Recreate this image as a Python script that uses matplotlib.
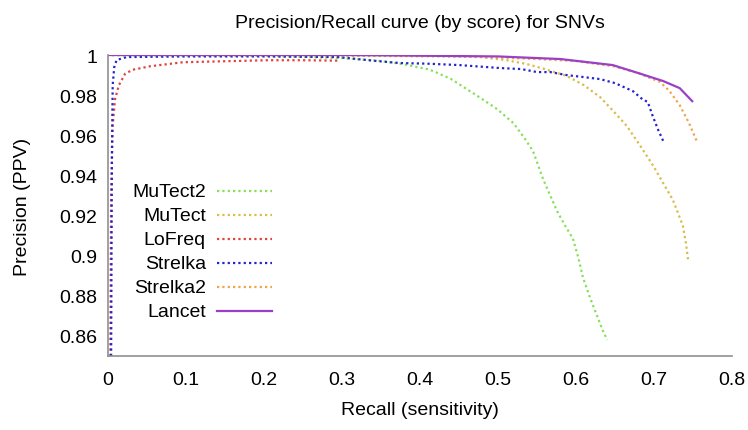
import matplotlib
matplotlib.use('Agg')
from matplotlib import pyplot as plt

plt.rcParams['font.family'] = ['Liberation Sans', 'DejaVu Sans']

# recall / precision values
mutect2_x = [0.005, 0.1, 0.2, 0.3, 0.35, 0.378, 0.409, 0.417, 0.44, 0.46, 0.48, 0.499, 0.52, 0.535,
             0.545, 0.558, 0.567, 0.576, 0.586, 0.596, 0.603, 0.609, 0.618, 0.627, 0.634, 0.640]
mutect2_y = [1.0, 0.9998, 0.9996, 0.9985, 0.997, 0.9955, 0.993, 0.992, 0.988, 0.983, 0.978, 0.973, 0.966, 0.958,
             0.952, 0.938, 0.930, 0.922, 0.915, 0.9085, 0.899, 0.889, 0.879, 0.870, 0.863, 0.858]

mutect_x = [0.005, 0.2, 0.35, 0.42, 0.477, 0.51, 0.537, 0.56, 0.588, 0.61, 0.631, 0.648, 0.665, 0.682,
            0.699, 0.712, 0.724, 0.731, 0.737, 0.741, 0.744]
mutect_y = [1.0, 0.9998, 0.9995, 0.9993, 0.999, 0.9975, 0.9955, 0.993, 0.9896, 0.985, 0.979, 0.972, 0.9647, 0.955,
            0.9448, 0.936, 0.928, 0.921, 0.915, 0.906, 0.897]

lofreq_x = [0.003, 0.004, 0.006, 0.009, 0.014, 0.022, 0.032, 0.054, 0.096, 0.16, 0.204, 0.25, 0.294]
lofreq_y = [0.85, 0.93, 0.965, 0.978, 0.985, 0.9907, 0.9927, 0.9944, 0.9964, 0.997, 0.9974, 0.9974, 0.9972]

strelka_x = [0.004, 0.005, 0.006, 0.008, 0.011, 0.024, 0.1, 0.2, 0.294, 0.345, 0.374, 0.409, 0.45, 0.503,
             0.53, 0.55, 0.567, 0.588, 0.61, 0.631, 0.65, 0.673, 0.685, 0.692, 0.698, 0.705, 0.712]
strelka_y = [0.85, 0.95, 0.985, 0.994, 0.9975, 0.999, 0.9993, 0.9993, 0.999, 0.997, 0.996, 0.9957, 0.995, 0.9935,
             0.993, 0.9915, 0.9915, 0.990, 0.989, 0.988, 0.986, 0.982, 0.978, 0.9766, 0.970, 0.963, 0.957]

strelka2_x = [0.005, 0.3, 0.45, 0.55, 0.6, 0.647, 0.68, 0.708, 0.72, 0.733, 0.745, 0.756]
strelka2_y = [1.0, 1.0, 0.9995, 0.998, 0.997, 0.9945, 0.991, 0.9865, 0.982, 0.975, 0.966, 0.956]

lancet_x = [0.0, 0.3, 0.5, 0.58, 0.647, 0.68, 0.712, 0.733, 0.749]
lancet_y = [1.0, 1.0, 0.9993, 0.998, 0.995, 0.991, 0.987, 0.9835, 0.977]

names = ['MuTect2', 'MuTect', 'LoFreq', 'Strelka', 'Strelka2', 'Lancet']
colors = ['#86e05a', '#d8bc4c', '#e0443c', '#2424cc', '#f0a448', '#9a40c8']
xs = [mutect2_x, mutect_x, lofreq_x, strelka_x, strelka2_x, lancet_x]
ys = [mutect2_y, mutect_y, lofreq_y, strelka_y, strelka2_y, lancet_y]

dots = (0, (1, 1.4))
fs = 14

fig = plt.figure(figsize=(7.48, 4.31), dpi=100)
ax = fig.add_axes([0.1444, 0.1717, 0.8342, 0.6983])

for name, c, x, y in zip(names, colors, xs, ys):
    if name == 'Lancet':
        ax.plot(x, y, color=c, lw=1.6, solid_joinstyle='round')
    else:
        ax.plot(x, y, color=c, lw=1.6, linestyle=dots)

ax.set_xlim(0, 0.8)
ax.set_ylim(0.85, 1.0)
ax.set_xticks([0, 0.1, 0.2, 0.3, 0.4, 0.5, 0.6, 0.7, 0.8])
ax.set_xticklabels(['0', '0.1', '0.2', '0.3', '0.4', '0.5', '0.6', '0.7', '0.8'])
ax.set_yticks([0.86, 0.88, 0.9, 0.92, 0.94, 0.96, 0.98, 1.0])
ax.set_yticklabels(['0.86', '0.88', '0.9', '0.92', '0.94', '0.96', '0.98', '1'])
ax.tick_params(length=0, labelsize=fs)
ax.tick_params(axis='x', pad=11)
ax.tick_params(axis='y', pad=8)
for s in ['top', 'right']:
    ax.spines[s].set_visible(False)
for s in ['left', 'bottom']:
    ax.spines[s].set_color('#909090')
    ax.spines[s].set_linewidth(1.2)

ax.set_title('Precision/Recall curve (by score) for SNVs', fontsize=fs, pad=20)
ax.set_xlabel('Recall (sensitivity)', fontsize=fs, labelpad=9)
ax.set_ylabel('Precision (PPV)', fontsize=fs, labelpad=20)

# gnuplot style key: right aligned text, sample line on the right
for i, (name, c) in enumerate(zip(names, colors)):
    yy = 0.548 - i * 0.0797
    ax.text(0.157, yy, name, transform=ax.transAxes, ha='right', va='center', fontsize=fs)
    ls = '-' if name == 'Lancet' else dots
    ax.plot([0.175, 0.263], [yy, yy], transform=ax.transAxes, color=c, lw=1.6, linestyle=ls)

plt.savefig('out.png', dpi=100)
